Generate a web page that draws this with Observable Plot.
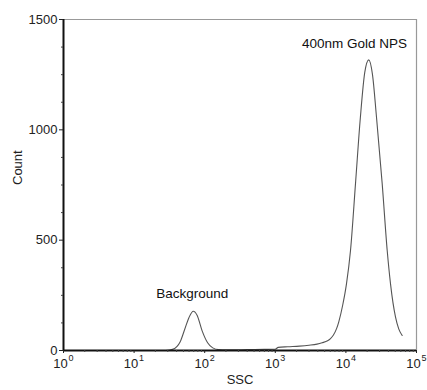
<!DOCTYPE html>
<html>
<head>
<meta charset="utf-8">
<script src="https://cdn.jsdelivr.net/npm/d3@7"></script>
<script src="https://cdn.jsdelivr.net/npm/@observablehq/plot@0.6"></script>
<style>
  html, body { margin: 0; padding: 0; background: #fff; }
  svg { display: block; }
</style>
</head>
<body>
<div id="chart"></div>
<script>
// SSC channel values (log scale) and event counts
const ssc = [28, 35, 45, 52, 60, 69, 78, 92, 110, 130, 158, 200, 400, 700, 1000, 1100, 1500, 2200, 3000, 3900, 4600, 5500, 6050, 6660, 7400, 7930, 9000, 10190, 11620, 13670, 16040, 18500, 21100, 23800, 27130, 32680, 38460, 42850, 50470, 56000, 62700];
const count = [0, 5, 40, 95, 150, 178, 160, 89, 35, 12, 4, 3, 4, 5, 6, 14, 17, 20, 24, 29, 35, 44, 54, 70, 100, 130, 205, 302, 453, 755, 1057, 1260, 1317, 1250, 1057, 755, 453, 302, 151, 98, 68];

const xDecades = [1, 10, 100, 1000, 10000, 100000];
const xExponents = ["0", "1", "2", "3", "4", "5"];
const yTicks = [0, 500, 1000, 1500];
const yMinor = [125, 250, 375, 625, 750, 875, 1125, 1250, 1375];
const xMinor = [];
for (let e = 0; e < 5; e++) for (let m = 2; m <= 9; m++) xMinor.push(m * 10 ** e);

const annotLabels = ["400nm Gold NPS", "Background"];
const annotX = [13200, 66.5];
const annotY = [1391, 258];

const data = ssc.map((s, i) => ({ssc: s, count: count[i]}));
const annots = annotLabels.map((t, i) => ({label: t, x: annotX[i], y: annotY[i]}));

const font = "Liberation Sans, Arial, sans-serif";

const chart = Plot.plot({
  width: 427,
  height: 390,
  marginLeft: 63,
  marginRight: 11,
  marginTop: 19,
  marginBottom: 40,
  style: {fontFamily: font, fontSize: "13px", color: "#222", background: "#fff"},
  x: {type: "log", domain: [1, 100000], axis: null},
  y: {domain: [0, 1500], axis: null},
  marks: [
    Plot.ruleY([1500], {stroke: "#999", strokeWidth: 1.2}),
    Plot.ruleX([100000], {stroke: "#999", strokeWidth: 1.2}),
    Plot.line(data, {x: "ssc", y: "count", stroke: "#555", strokeWidth: 1.1, curve: "monotone-x"}),
    Plot.ruleX([1], {stroke: "#111", strokeWidth: 2}),
    Plot.ruleY([0], {stroke: "#111", strokeWidth: 2}),
    Plot.axisY({ticks: yTicks, tickSize: 4, tickPadding: 2, tickFormat: d => String(d), fontSize: 13, stroke: "#222", color: "#222"}),
    Plot.axisY({ticks: yMinor, tickSize: 2, tickFormat: () => "", stroke: "#444"}),
    Plot.axisX({ticks: xDecades, tickSize: 3, tickFormat: () => "", stroke: "#222"}),
    Plot.axisX({ticks: xMinor, tickSize: 2, tickFormat: () => "", stroke: "#444"}),
    Plot.text(xDecades, {x: d => d, frameAnchor: "bottom", dy: 17, dx: -3, text: () => "10", fontSize: 13, fill: "#222"}),
    Plot.text(xDecades, {x: d => d, frameAnchor: "bottom", dy: 10, dx: 5, textAnchor: "start", text: (d, i) => xExponents[i], fontSize: 9, fill: "#222"}),
    Plot.text(["SSC"], {frameAnchor: "bottom", dy: 33, text: d => d, fontSize: 13, fill: "#222"}),
    Plot.text(["Count"], {frameAnchor: "left", dx: -46, rotate: -90, text: d => d, fontSize: 13, fill: "#222"}),
    Plot.text(annots, {x: "x", y: "y", text: "label", fontSize: 13.5, fill: "#111"})
  ]
});
document.getElementById("chart").append(chart);
</script>
</body>
</html>
